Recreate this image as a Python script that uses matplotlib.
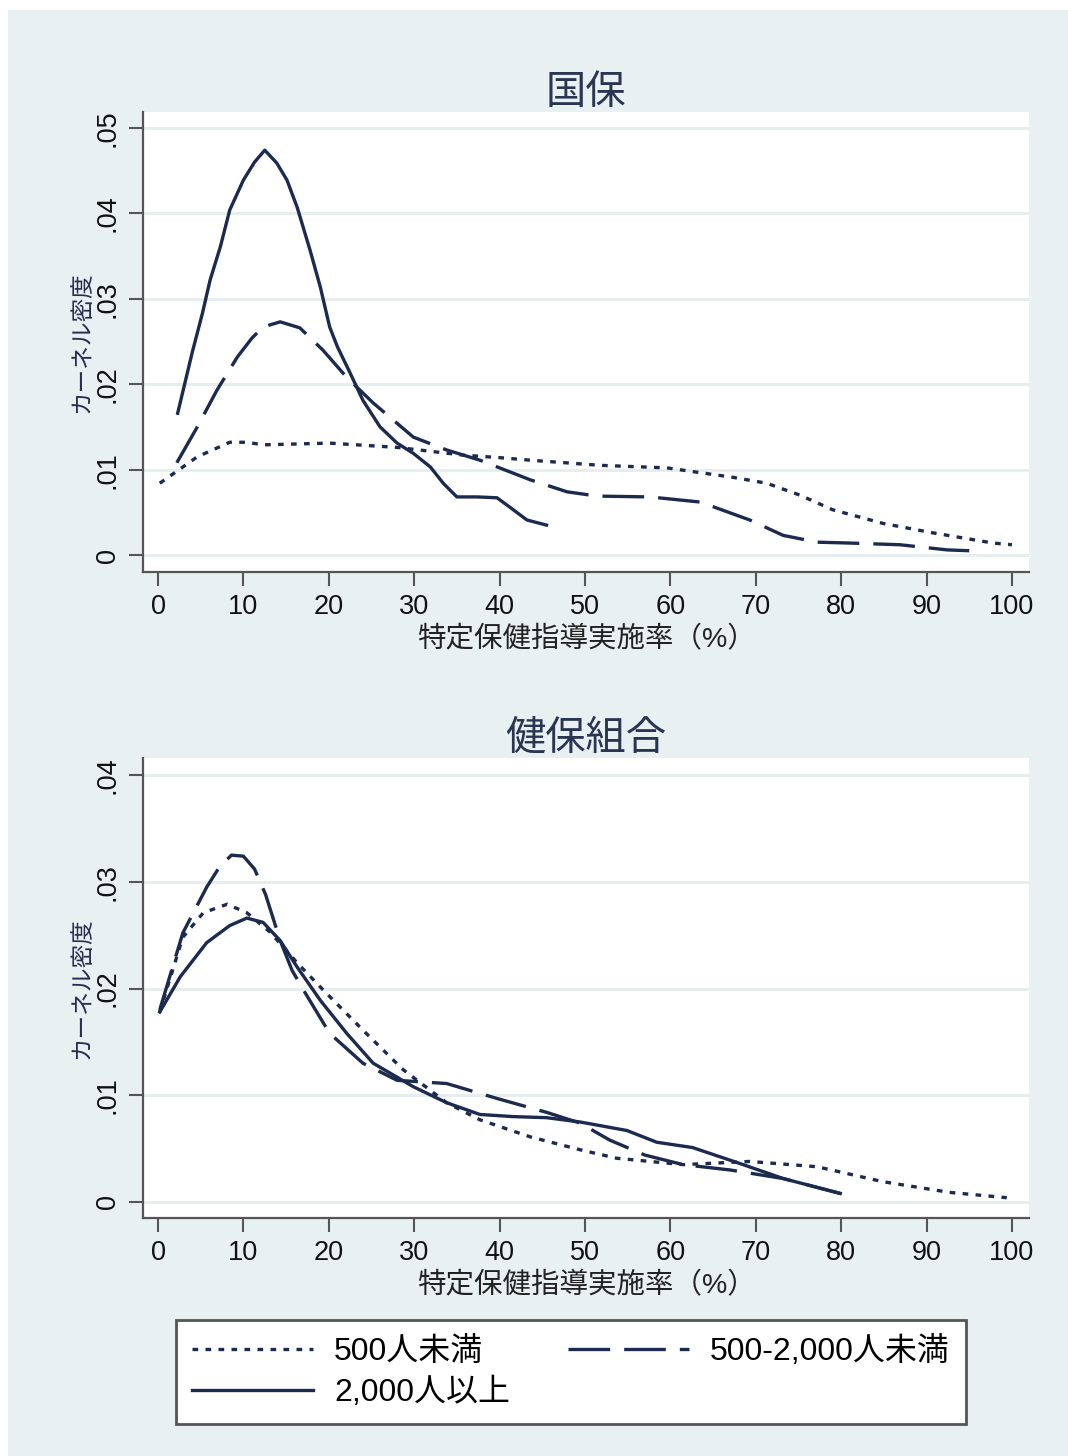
import matplotlib
matplotlib.use("Agg")
import matplotlib.pyplot as plt
from matplotlib.patches import Rectangle
from matplotlib.lines import Line2D

# kernel density curves, x = 特定保健指導実施率 (%)
kokuho_small_x = [0.2, 4.6, 8.4, 10.4, 12.3, 20.1, 28.0, 35.7, 40.0, 43.6, 51.8, 59.6,
                  67.3, 71.3, 75.2, 79.0, 84.9, 90.7, 97.8, 100.0]
kokuho_small_y = [.0084, .0115, .0132, .0132, .0129, .0131, .0126, .0117, .0114, .0111,
                  .0105, .0102, .0091, .0084, .0070, .0053, .0037, .0026, .0014, .0012]
kokuho_mid_x = [2.2, 4.6, 6.9, 9.3, 11.0, 12.3, 14.3, 16.6, 19.3, 22.1, 25.2, 29.9, 33.8,
                37.7, 43.6, 47.9, 51.4, 57.6, 63.5, 69.3, 73.2, 77.2, 81.0, 86.9, 92.4,
                95.0]
kokuho_mid_y = [.0108, .0150, .0193, .0232, .0254, .0267, .0273, .0266, .0240, .0208,
                .0178, .0138, .0123, .0111, .0088, .0074, .0069, .0068, .0062, .0041,
                .0023, .0015, .0014, .0012, .0006, .0005]
kokuho_large_x = [2.3, 4.0, 5.2, 6.1, 7.3, 8.4, 10.0, 11.3, 12.5, 13.9, 15.1, 16.3, 17.8,
                  19.0, 20.1, 21.0, 22.5, 24.0, 26.0, 28.0, 29.9, 31.9, 33.4, 35.0, 37.4,
                  39.7, 41.2, 43.2, 45.5]
kokuho_large_y = [.0166, .0237, .0283, .0322, .0361, .0404, .0439, .0460, .0474, .0459,
                  .0439, .0407, .0357, .0314, .0267, .0244, .0213, .0181, .0150, .0131,
                  .0119, .0103, .0084, .0068, .0068, .0067, .0056, .0041, .0035]

kenpo_small_x = [0.2, 2.9, 5.3, 8.1, 10.4, 13.1, 16.3, 19.3, 24.0, 28.7, 33.8, 37.7, 43.6,
                 49.4, 53.7, 61.5, 69.3, 77.2, 84.9, 92.7, 99.4]
kenpo_small_y = [.0178, .0248, .0271, .0279, .0271, .0253, .0224, .0199, .0161, .0124,
                 .0093, .0077, .0061, .0049, .0041, .0035, .0038, .0033, .0019, .0009, .0004]
kenpo_mid_x = [0.2, 2.9, 5.7, 7.2, 8.6, 10.0, 11.3, 12.6, 14.3, 15.7, 17.0, 20.1, 24.0,
               28.0, 33.8, 39.7, 45.5, 49.4, 52.9, 57.0, 61.5, 67.0, 73.2, 79.9]
kenpo_mid_y = [.0180, .0252, .0295, .0314, .0325, .0324, .0312, .0288, .0245, .0217,
               .0199, .0158, .0130, .0114, .0111, .0097, .0084, .0074, .0058, .0044,
               .0035, .0030, .0022, .0008]
kenpo_large_x = [0.2, 2.6, 5.7, 8.4, 10.4, 12.3, 14.3, 16.3, 19.0, 22.1, 25.2, 29.9, 33.8,
                 37.7, 41.6, 45.5, 49.4, 54.9, 58.4, 62.6, 67.8, 73.2, 79.9]
kenpo_large_y = [.0178, .0211, .0243, .0259, .0266, .0262, .0245, .0220, .0189, .0158,
                 .0130, .0108, .0093, .0082, .0080, .0079, .0075, .0067, .0056, .0051,
                 .0037, .0022, .0008]

titles = ["国保", "健保組合"]
labels = ["500人未満", "500-2,000人未満", "2,000人以上"]
x_ticks = list(range(0, 101, 10))
y_ticks_top = [0, .01, .02, .03, .04, .05]
y_ticks_bottom = [0, .01, .02, .03, .04]

FONTS = ["Liberation Sans", "Noto Sans CJK JP", "DejaVu Sans"]
plt.rcParams["font.family"] = FONTS

navy = "#1b2a4e"
bg = "#e9f0f2"
lw = 2.4
styles = [(0, (1.7, 2.2)), (0, (12.5, 4.2)), "-"]

W, H = 1068, 1456
fig = plt.figure(figsize=(W / 100, H / 100), dpi=100, facecolor="white")
fig.patches.append(Rectangle((8 / W, 0), 1, 1 - 10 / H, transform=fig.transFigure,
                             facecolor=bg, edgecolor="none", zorder=-10))


def fmt(v):
    if v == 0:
        return "0"
    return ("%.2f" % v)[1:]


def panel(rect, title, series, yticks, ylim):
    ax = fig.add_axes(rect)
    ax.set_facecolor("white")
    for (xs, ys), ls in zip(series, styles):
        ax.plot(xs, ys, color=navy, lw=lw, linestyle=ls, dash_capstyle="butt",
                solid_joinstyle="round")
    ax.set_xlim(-1.76, 102.0)
    ax.set_ylim(*ylim)
    ax.set_xticks(x_ticks)
    ax.set_xticklabels([str(t) for t in x_ticks], fontsize=19.5, color="#111111")
    ax.set_yticks(yticks)
    ax.set_yticklabels([fmt(t) for t in yticks], fontsize=19.5, color="#111111",
                       rotation=90, va="center")
    ax.grid(axis="y", color="#e5eded", lw=2)
    ax.set_axisbelow(True)
    for s in ["top", "right"]:
        ax.spines[s].set_visible(False)
    for s in ["left", "bottom"]:
        ax.spines[s].set_color("#555555")
        ax.spines[s].set_linewidth(1.6)
    ax.tick_params(length=10, width=1.5, color="#555555", pad=6)
    ax.set_title(title, fontsize=29, color="#2a3552", pad=2)
    ax.set_xlabel("特定保健指導実施率（%）", fontsize=20.5, color="#222222", labelpad=4)
    ax.set_ylabel("カーネル密度", fontsize=17, color="#2a2c50", labelpad=1)
    return ax


panel([143 / W, 1 - 572 / H, 886 / W, 460 / H], titles[0],
      [(kokuho_small_x, kokuho_small_y), (kokuho_mid_x, kokuho_mid_y),
       (kokuho_large_x, kokuho_large_y)],
      y_ticks_top, (-0.00199, 0.05187))
panel([143 / W, 1 - 1218 / H, 886 / W, 460 / H], titles[1],
      [(kenpo_small_x, kenpo_small_y), (kenpo_mid_x, kenpo_mid_y),
       (kenpo_large_x, kenpo_large_y)],
      y_ticks_bottom, (-0.0015, 0.0416))

# legend order arranged so columns fill as: dotted / solid | dashed
handles = [Line2D([], [], color=navy, lw=lw, linestyle=ls, dash_capstyle="butt")
           for ls in styles]
order = [0, 2, 1]
leg = fig.legend([handles[i] for i in order], [labels[i] for i in order],
                 ncol=2, loc="upper left", bbox_to_anchor=(176 / W, 1 - 1320 / H),
                 borderaxespad=0, fontsize=23, handlelength=3.8, handletextpad=0.65,
                 columnspacing=1.8, labelspacing=0.33, borderpad=0.5,
                 frameon=True, fancybox=False, edgecolor="#555555",
                 facecolor="white", framealpha=1)
leg.get_frame().set_linewidth(2)

fig.savefig("out.png", dpi=100, facecolor=fig.get_facecolor())
